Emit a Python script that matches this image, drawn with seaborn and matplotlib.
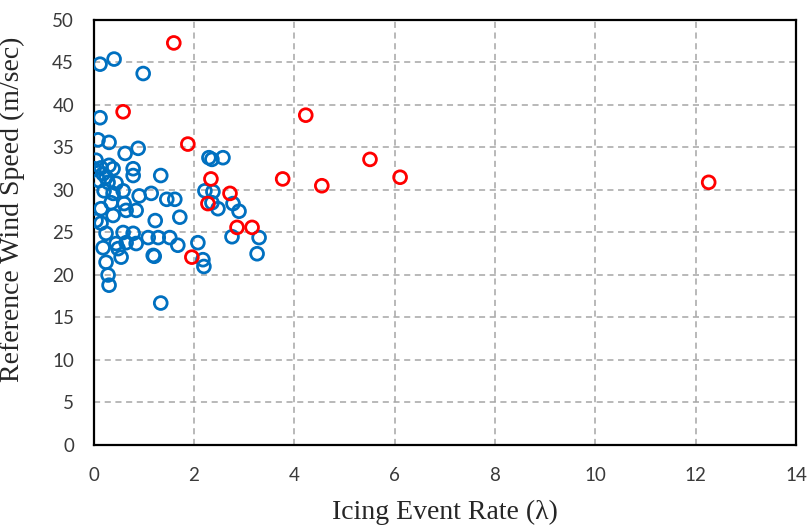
import numpy as np
import pandas as pd
import matplotlib
matplotlib.use("Agg")
import matplotlib.pyplot as plt
import seaborn as sns

# blue series (most points)
blue_x = [0.13, 0.41, 0.99, 0.13, 0.09, 0.31, 0.63, 0.89, 0.05, 0.01,
          0.15, 0.31, 0.39, 0.19, 0.25, 0.11, 0.29, 0.45, 0.59, 0.79,
          0.79, 1.34, 0.21, 0.39, 0.91, 1.15, 1.46, 1.62, 2.30, 2.36,
          2.58, 2.22, 2.38, 2.36, 2.48, 2.78, 2.90, 0.35, 0.61, 0.65,
          0.85, 0.15, 0.39, 0.05, 0.15, 1.23, 1.72, 0.25, 0.59, 0.79,
          0.19, 0.45, 0.49, 0.65, 0.85, 1.09, 1.29, 1.52, 1.68, 2.08,
          1.19, 1.21, 0.55, 0.25, 0.29, 0.31, 1.34, 2.76, 3.30, 3.26,
          2.18, 2.20]
blue_y = [44.8, 45.4, 43.7, 38.5, 35.9, 35.6, 34.3, 34.9, 33.5, 32.5,
          32.6, 32.9, 32.5, 31.9, 31.5, 31.1, 30.9, 30.8, 29.9, 32.5,
          31.7, 31.7, 29.9, 29.6, 29.3, 29.6, 28.9, 28.9, 33.8, 33.6,
          33.8, 29.9, 29.8, 28.5, 27.8, 28.4, 27.5, 28.5, 28.4, 27.6,
          27.6, 27.8, 27.0, 26.4, 26.1, 26.4, 26.8, 24.9, 25.0, 24.9,
          23.2, 23.7, 23.1, 23.8, 23.7, 24.4, 24.4, 24.4, 23.5, 23.8,
          22.3, 22.2, 22.1, 21.5, 20.0, 18.8, 16.7, 24.5, 24.4, 22.5,
          21.8, 21.0]

# red series
red_x = [1.60, 0.59, 1.88, 4.23, 5.51, 3.77, 4.55, 6.11, 12.26, 2.34,
         2.72, 2.28, 2.86, 3.16, 1.96]
red_y = [47.3, 39.2, 35.4, 38.8, 33.6, 31.3, 30.5, 31.5, 30.9, 31.3,
         29.6, 28.4, 25.6, 25.6, 22.1]

x_ticks = [0, 2, 4, 6, 8, 10, 12, 14]
y_ticks = [0, 5, 10, 15, 20, 25, 30, 35, 40, 45, 50]

blue_df = pd.DataFrame({"rate": blue_x, "speed": blue_y})
red_df = pd.DataFrame({"rate": red_x, "speed": red_y})

sns.set_style("white")
plt.rcParams["font.family"] = ["Lato", "DejaVu Sans"]

fig = plt.figure(figsize=(8.11, 5.27), dpi=100)
ax = fig.add_axes([0.1153, 0.1556, 0.8662, 0.8065])

sns.scatterplot(data=blue_df, x="rate", y="speed", ax=ax, s=85,
                facecolor="none", edgecolor="#0070C0", linewidth=2.0, zorder=3)
sns.scatterplot(data=red_df, x="rate", y="speed", ax=ax, s=85,
                facecolor="none", edgecolor="#FF0000", linewidth=2.0, zorder=4)

ax.set_xlim(0, 14)
ax.set_ylim(0, 50)
ax.set_xticks(x_ticks)
ax.set_yticks(y_ticks)
ax.grid(True, color="#A6A6A6", linestyle=(0, (4, 3)), linewidth=1.1, zorder=0)
ax.set_axisbelow(True)
ax.tick_params(length=0, labelsize=13.5, colors="#3A3A3A")
ax.tick_params(axis="x", pad=16)
ax.tick_params(axis="y", pad=14)

for sp in ax.spines.values():
    sp.set_visible(True)
    sp.set_color("black")
    sp.set_linewidth(1.6)

serif = ["Liberation Serif", "DejaVu Serif"]
ax.set_xlabel("Icing Event Rate (\u03bb)", fontsize=20, family=serif, labelpad=11)
ax.set_ylabel("Reference Wind Speed (m/sec)", fontsize=20, family=serif)
ax.yaxis.set_label_coords(-0.0975, 0.555)

fig.savefig("out.png", dpi=100)
